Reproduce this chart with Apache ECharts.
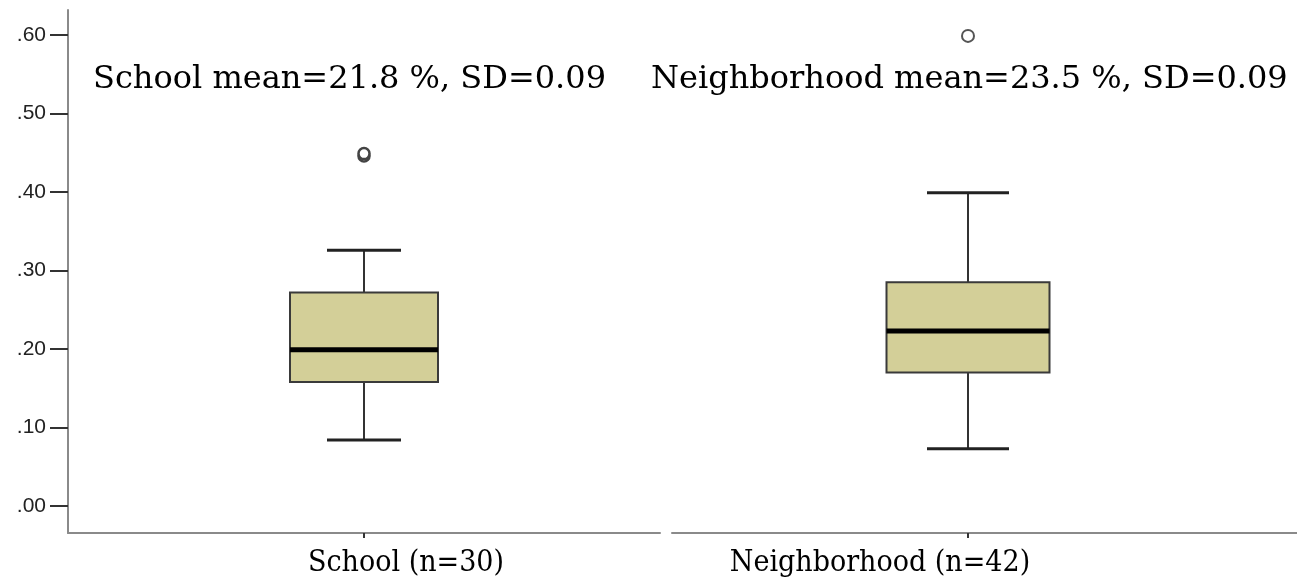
<!DOCTYPE html>
<html>
<head>
<meta charset="utf-8">
<script src="https://cdn.jsdelivr.net/npm/echarts@6/dist/echarts.min.js"></script>
<style>
  html, body { margin: 0; padding: 0; background: #fff; }
  #chart { width: 1297px; height: 582px; }
</style>
</head>
<body>
<div id="chart"></div>
<script>
// ---- data ----
const categories = ['School (n=30)', 'Neighborhood (n=42)'];
// [min, Q1, median, Q3, max]
const schoolBox = [0.084, 0.158, 0.199, 0.272, 0.326];
const neighborhoodBox = [0.073, 0.170, 0.223, 0.285, 0.399];
const schoolOutliers = [0.446, 0.449];
const neighborhoodOutliers = [0.599];
const yTickValues = [0, 0.1, 0.2, 0.3, 0.4, 0.5, 0.6];
const annotations = ['School mean=21.8 %, SD=0.09', 'Neighborhood mean=23.5 %, SD=0.09'];

// ---- styles ----
const Y_MIN = -0.0344, Y_MAX = 0.632;
const serif = "'DejaVu Serif', serif";
const labelSerif = "'DejaVu Serif Condensed', 'DejaVu Serif', serif";

function boxRenderer(boxW, capW) {
  return function (params, api) {
    const c = api.value(0);
    const pMin = api.coord([c, api.value(1)]);
    const pQ1 = api.coord([c, api.value(2)]);
    const pMed = api.coord([c, api.value(3)]);
    const pQ3 = api.coord([c, api.value(4)]);
    const pMax = api.coord([c, api.value(5)]);
    const cx = pMed[0];
    const line = (x1, y1, x2, y2, w, col) => ({
      type: 'line', shape: { x1, y1, x2, y2 },
      style: { stroke: col, lineWidth: w }
    });
    return {
      type: 'group',
      children: [
        line(cx, pMax[1], cx, pQ3[1], 2, '#333'),
        line(cx, pQ1[1], cx, pMin[1], 2, '#333'),
        line(cx - capW / 2, pMax[1], cx + capW / 2, pMax[1], 3, '#222'),
        line(cx - capW / 2, pMin[1], cx + capW / 2, pMin[1], 3, '#222'),
        {
          type: 'rect',
          shape: { x: cx - boxW / 2, y: pQ3[1], width: boxW, height: pQ1[1] - pQ3[1] },
          style: { fill: '#d3cf98', stroke: '#3a3a3a', lineWidth: 2 }
        },
        line(cx - boxW / 2, pMed[1], cx + boxW / 2, pMed[1], 5, '#000')
      ]
    };
  };
}

const chart = echarts.init(document.getElementById('chart'), null, { renderer: 'canvas' });

const hiddenY = (gi) => ({
  type: 'value', gridIndex: gi, min: Y_MIN, max: Y_MAX,
  show: false, splitLine: { show: false }
});

const axisLineStyle = { show: true, onZero: false, lineStyle: { color: '#8a8a8a', width: 2 } };

const xCat = (gi, cat, pad) => ({
  type: 'category', gridIndex: gi, data: [cat],
  boundaryGap: true,
  axisLine: axisLineStyle,
  axisTick: { show: true, alignWithLabel: true, length: 5, lineStyle: { color: '#333', width: 2 } },
  axisLabel: {
    show: true, margin: 15, color: '#000',
    fontFamily: labelSerif, fontSize: 30,
    padding: pad
  },
  splitLine: { show: false }
});

const option = {
  backgroundColor: '#ffffff',
  animation: false,
  grid: [
    { left: 68, right: 1297 - 660, top: 10, bottom: 49 },
    { left: 672, right: 1297 - 1264, top: 10, bottom: 49 },
    { left: 1264, right: 0, top: 10, bottom: 49 }
  ],
  xAxis: [
    xCat(0, categories[0], [0, 0, 0, 84]),
    xCat(1, categories[1], [0, 176, 0, 0]),
    {
      type: 'category', gridIndex: 2, data: [''],
      axisLine: axisLineStyle,
      axisTick: { show: false }, axisLabel: { show: false }
    }
  ],
  yAxis: [
    {
      type: 'value', gridIndex: 0, min: Y_MIN, max: Y_MAX,
      axisLine: axisLineStyle,
      axisTick: {
        show: true, length: 18, customValues: yTickValues,
        lineStyle: { color: '#333', width: 2 }
      },
      axisLabel: {
        show: true, margin: 22, customValues: yTickValues,
        color: '#222', fontFamily: "'Liberation Sans', Arial, sans-serif", fontSize: 21,
        formatter: (v) => v.toFixed(2).replace(/^0/, '')
      },
      splitLine: { show: false }
    },
    hiddenY(1),
    hiddenY(2)
  ],
  graphic: [
    {
      type: 'text', left: 93, top: 64,
      style: { text: annotations[0], font: "32px " + serif, fill: '#000' }
    },
    {
      type: 'text', left: 651, top: 64,
      style: { text: annotations[1], font: "32px " + serif, fill: '#000' }
    }
  ],
  series: [
    {
      type: 'custom', xAxisIndex: 0, yAxisIndex: 0,
      renderItem: boxRenderer(148, 74),
      encode: { x: 0, y: [1, 2, 3, 4, 5] },
      data: [[0].concat(schoolBox)]
    },
    {
      type: 'custom', xAxisIndex: 1, yAxisIndex: 1,
      renderItem: boxRenderer(163, 82),
      encode: { x: 0, y: [1, 2, 3, 4, 5] },
      data: [[0].concat(neighborhoodBox)]
    },
    {
      type: 'scatter', xAxisIndex: 0, yAxisIndex: 0,
      symbol: 'circle', symbolSize: 11,
      itemStyle: { color: '#ffffff', borderColor: '#444', borderWidth: 2.5, opacity: 1 },
      data: schoolOutliers.map(v => [0, v])
    },
    {
      type: 'scatter', xAxisIndex: 1, yAxisIndex: 1,
      symbol: 'circle', symbolSize: 12,
      itemStyle: { color: '#ffffff', borderColor: '#555', borderWidth: 2, opacity: 1 },
      data: neighborhoodOutliers.map(v => [0, v])
    }
  ]
};

chart.setOption(option);
</script>
</body>
</html>
